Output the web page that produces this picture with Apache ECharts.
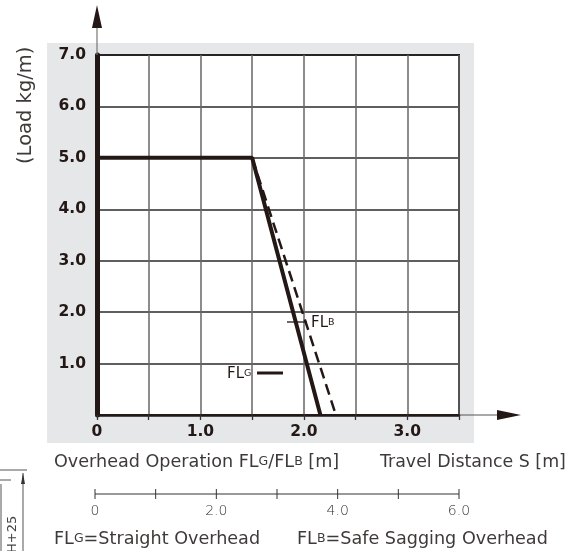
<!DOCTYPE html>
<html>
<head>
<meta charset="utf-8">
<script src="https://cdn.jsdelivr.net/npm/echarts@6/dist/echarts.min.js"></script>
<style>html,body{margin:0;padding:0;background:#fff;}#c{width:579px;height:551px;}</style>
</head>
<body>
<div id="c"></div>
<script>
// ---- data ----
const flgLine = [[0, 5.0], [1.5, 5.0], [2.16, 0]];      // FLG straight overhead
const flbLine = [[1.5, 5.0], [2.31, 0]];                // FLB safe sagging overhead
const xTickLabels = ['0', '1.0', '2.0', '3.0'];
const yTickLabels = ['1.0', '2.0', '3.0', '4.0', '5.0', '6.0', '7.0'];
const scaleTickLabels = ['0', '2.0', '4.0', '6.0'];
const scaleTickCount = 7;

const INK = '#231815';
const TXT = '#3e3a39';
const FONT = 'DejaVu Sans';

const chart = echarts.init(document.getElementById('c'));

const big = { fontSize: 17.6, fontFamily: FONT, fontWeight: 'normal', fill: TXT };
const sub = { fontSize: 12.5, fontFamily: FONT, fontWeight: 'normal', fill: TXT };
const lab = { fontSize: 15, fontFamily: FONT, fill: INK };
const labSub = { fontSize: 9.5, fontFamily: FONT, fill: INK };

const graphics = [
  // gray panel
  { type: 'rect', z: -10, shape: { x: 47, y: 43, width: 427, height: 400 }, style: { fill: '#e6e7e8' } },
  // y arrow
  { type: 'line', z: 10, shape: { x1: 97, y1: 55, x2: 97, y2: 25 }, style: { stroke: '#777', lineWidth: 1.2 } },
  { type: 'polygon', z: 10, shape: { points: [[97, 5], [92, 28], [102, 28]] }, style: { fill: INK } },
  // x arrow
  { type: 'line', z: 10, shape: { x1: 460, y1: 415, x2: 500, y2: 415 }, style: { stroke: '#555', lineWidth: 1.2 } },
  { type: 'polygon', z: 10, shape: { points: [[521, 415], [497, 410], [497, 420]] }, style: { fill: INK } },
  // y axis title (rotated, runs bottom -> top)
  { type: 'text', z: 10, x: 26, y: 164, rotation: Math.PI / 2,
    style: { text: '(Load kg/m)', fontSize: 19.5, fontFamily: FONT, fontWeight: 'normal', fill: TXT, align: 'left', verticalAlign: 'middle' } },
  // FLB marker
  { type: 'line', z: 10, shape: { x1: 287, y1: 322, x2: 307, y2: 322 }, style: { stroke: INK, lineWidth: 1.3 } },
  { type: 'text', z: 10, x: 311, y: 323,
    style: { text: '{a|FL}{s|B}', verticalAlign: 'middle', align: 'left', rich: { a: lab, s: labSub } } },
  // FLG marker
  { type: 'line', z: 10, shape: { x1: 257, y1: 373, x2: 283, y2: 373 }, style: { stroke: INK, lineWidth: 3 } },
  { type: 'text', z: 10, x: 227, y: 374,
    style: { text: '{a|FL}{s|G}', verticalAlign: 'middle', align: 'left', rich: { a: lab, s: labSub } } },
  // bottom texts
  { type: 'text', x: 54, y: 462,
    style: { text: '{a|Overhead Operation FL}{s|G}{a|/FL}{s|B}{a| [m]}', verticalAlign: 'middle', align: 'left', rich: { a: big, s: sub } } },
  { type: 'text', x: 380, y: 462,
    style: { text: 'Travel Distance S [m]', align: 'left', verticalAlign: 'middle', fontSize: 17.4, fontFamily: FONT, fill: TXT } },
  { type: 'text', x: 54, y: 539,
    style: { text: '{a|FL}{s|G}{a|=Straight Overhead}', verticalAlign: 'middle', align: 'left', rich: { a: big, s: sub } } },
  { type: 'text', x: 297, y: 539,
    style: { text: '{a|FL}{s|B}{a|=Safe Sagging Overhead}', verticalAlign: 'middle', align: 'left', rich: { a: big, s: sub } } },
  // scale bar
  { type: 'line', shape: { x1: 95, y1: 494, x2: 459, y2: 494 }, style: { stroke: '#333', lineWidth: 1 } },
  // cropped dimension fragment at bottom-left
  { type: 'line', shape: { x1: 0, y1: 470, x2: 27, y2: 470 }, style: { stroke: '#555', lineWidth: 1 } },
  { type: 'line', shape: { x1: 23, y1: 473, x2: 23, y2: 551 }, style: { stroke: '#555', lineWidth: 1 } },
  { type: 'polygon', shape: { points: [[23, 473], [21, 484], [25, 484]] }, style: { fill: '#333' } },
  { type: 'line', shape: { x1: 0, y1: 480, x2: 11, y2: 480 }, style: { stroke: '#555', lineWidth: 1 } },
  { type: 'line', shape: { x1: 1, y1: 484, x2: 1, y2: 551 }, style: { stroke: '#555', lineWidth: 1 } },
  { type: 'text', x: 13, y: 553, rotation: Math.PI / 2,
    style: { text: 'H+25', fontSize: 13, fontFamily: FONT, fontWeight: 'normal', fill: '#444', align: 'left', verticalAlign: 'middle' } }
];

// scale bar ticks and labels
const sx0 = 95, sx1 = 459;
for (let i = 0; i < scaleTickCount; i++) {
  const x = sx0 + (sx1 - sx0) * i / (scaleTickCount - 1);
  graphics.push({ type: 'line', shape: { x1: x, y1: 489, x2: x, y2: 499 }, style: { stroke: '#333', lineWidth: 1 } });
}
scaleTickLabels.forEach((t, i) => {
  const x = sx0 + (sx1 - sx0) * i / (scaleTickLabels.length - 1);
  graphics.push({ type: 'text', x: x, y: 511, style: { text: t, fontSize: 14, fontFamily: FONT, fontWeight: 200, fill: '#333', align: 'center', verticalAlign: 'middle' } });
});

const fmtX = v => { const s = v === 0 ? '0' : v.toFixed(1); return xTickLabels.indexOf(s) >= 0 ? s : ''; };
const fmtY = v => { const s = v.toFixed(1); return yTickLabels.indexOf(s) >= 0 ? s : ''; };

chart.setOption({
  animation: false,
  backgroundColor: 'transparent',
  grid: { left: 97, right: 120, top: 55, bottom: 136, show: true, backgroundColor: '#fff', borderColor: INK, borderWidth: 2 },
  xAxis: {
    type: 'value', min: 0, max: 3.5, interval: 0.5,
    axisLine: { show: true, lineStyle: { color: INK, width: 2.5 } },
    axisTick: { show: true, length: 5, lineStyle: { color: '#333', width: 1.3 } },
    axisLabel: { formatter: fmtX, fontFamily: FONT, fontWeight: 'bold', fontSize: 15.5, color: INK, margin: 9, showMaxLabel: true },
    splitLine: { show: true, lineStyle: { color: '#666', width: 1.5 } }
  },
  yAxis: {
    type: 'value', min: 0, max: 7, interval: 1,
    axisLine: { show: true, lineStyle: { color: INK, width: 5 } },
    axisTick: { show: false },
    axisLabel: { formatter: fmtY, fontFamily: FONT, fontWeight: 'bold', fontSize: 15.5, color: INK, margin: 11, showMaxLabel: true },
    splitLine: { show: true, lineStyle: { color: '#2a2a2a', width: 1.5 } }
  },
  graphic: graphics,
  series: [
    { name: 'FLB', type: 'line', data: flbLine, symbol: 'none', z: 3,
      lineStyle: { color: INK, width: 2.5, type: [11, 6] } },
    { name: 'FLG', type: 'line', data: flgLine, symbol: 'none', z: 4,
      lineStyle: { color: INK, width: 4 } }
  ]
});
</script>
</body>
</html>
